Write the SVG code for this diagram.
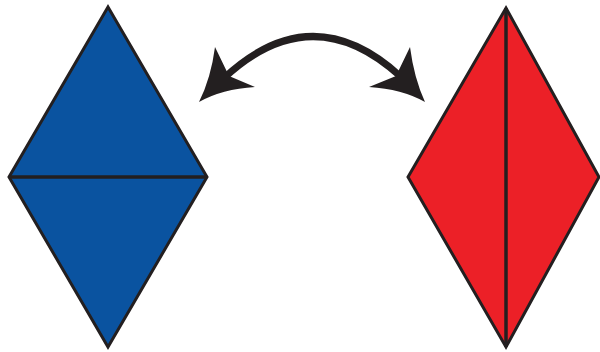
<svg xmlns="http://www.w3.org/2000/svg" width="600" height="352" viewBox="0 0 600 352">
<style>
.shape{stroke:#231f20;stroke-width:3;stroke-linejoin:miter}
.div{stroke:#231f20;stroke-width:3.5}
.arc{fill:none;stroke:#231f20;stroke-width:7}
.head{fill:#231f20}
</style>
<rect width="600" height="352" fill="#fff"/>
<g id="blue-diamond">
<polygon class="shape" fill="#0a53a0" points="108,7 207,177 108,347 9,177"/>
<line class="div" x1="9" y1="177" x2="207" y2="177"/>
</g>
<g id="red-diamond">
<polygon class="shape" fill="#ec2027" points="506,8 599,177 506,347 408,177"/>
<line class="div" x1="506" y1="8" x2="506" y2="347"/>
</g>
<g id="connectors">
<path class="arc" d="M224,78 Q312,-4 400,76"/>
<path class="head" d="M199,102 Q211,78 215,47 L229,76 L255,87 Q222,89 199,102 Z"/>
<path class="head" d="M425,102 Q414,78 410,47 L396,76 L369,87 Q402,89 425,102 Z"/>
</g>
</svg>
